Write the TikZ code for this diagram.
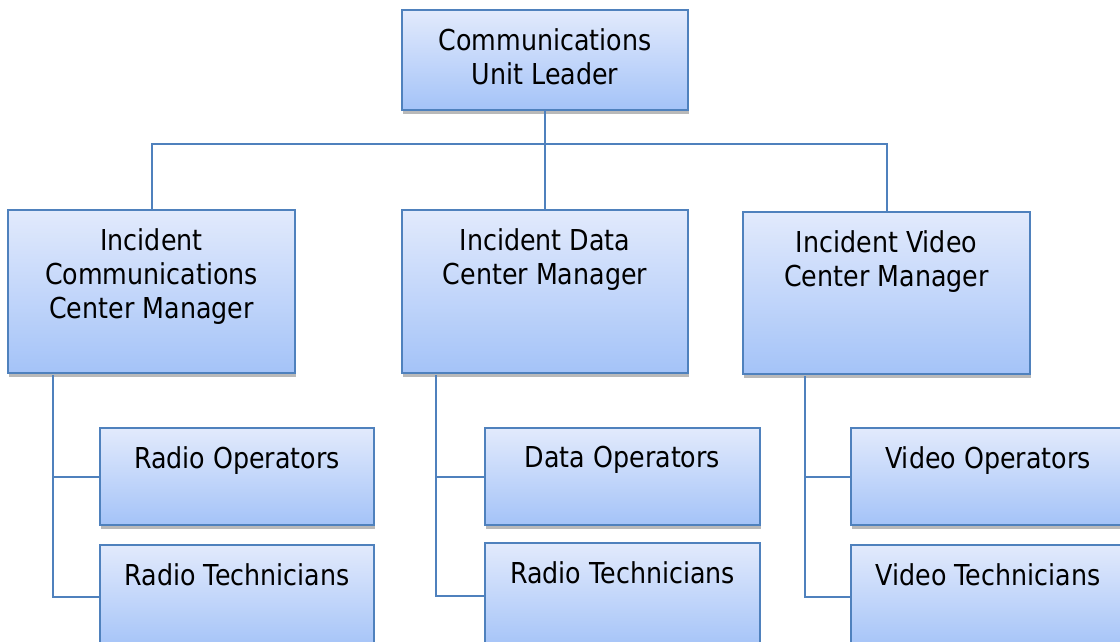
\documentclass[tikz,border=0pt]{standalone}
\usepackage{fontspec}
\setmainfont{DejaVu Sans}[FakeStretch=0.88]
\usetikzlibrary{shadows}
\definecolor{edgeblue}{RGB}{79,129,189}
\definecolor{filltop}{RGB}{226,234,252}
\definecolor{fillbot}{RGB}{164,195,248}
\definecolor{shadowgray}{RGB}{185,185,185}
\tikzset{
  box/.style={draw=edgeblue, line width=2pt, top color=filltop, bottom color=fillbot,
    rectangle, inner sep=0pt,
    drop shadow={shadow xshift=0.8pt, shadow yshift=-3.5pt, fill=shadowgray, opacity=1}},
  lbl/.style={anchor=north, yshift=-19pt, inner sep=0pt, align=center,
    font=\fontsize{28.8pt}{34pt}\selectfont},
  link/.style={draw=edgeblue, line width=2pt}
}
\begin{document}
\begin{tikzpicture}[x=1pt,y=-1pt]
\useasboundingbox (0,0) rectangle (1120,642);
\clip (0,0) rectangle (1120,642);
\fill[white] (0,0) rectangle (1120,642);

% leader
\node[box, minimum width=286pt, minimum height=100pt,
  label={[lbl]north:Communications\\Unit Leader}] (cul) at (545,60) {};

% managers
\node[box, minimum width=287pt, minimum height=163pt,
  label={[lbl]north:Incident\\Communications\\Center Manager}] (icm) at (151.5,291.5) {};
\node[box, minimum width=286pt, minimum height=163pt,
  label={[lbl]north:Incident Data\\Center Manager}] (dcm) at (545,291.5) {};
\node[box, minimum width=287pt, minimum height=162pt,
  label={[lbl]north:Incident Video\\Center Manager}] (vcm) at (886.5,293) {};

% staff
\node[box, minimum width=274pt, minimum height=97pt,
  label={[lbl]north:Radio Operators}] (rop) at (237,476.5) {};
\node[box, minimum width=274pt, minimum height=104pt,
  label={[lbl]north:Radio Technicians}] (rtc) at (237,597) {};
\node[box, minimum width=275pt, minimum height=97pt,
  label={[lbl]north:Data Operators}] (dop) at (622.5,476.5) {};
\node[box, minimum width=275pt, minimum height=106pt,
  label={[lbl]north:Radio Technicians}] (drt) at (622.5,596) {};
\node[box, minimum width=274pt, minimum height=97pt,
  label={[lbl]north:Video Operators}] (vop) at (988,476.5) {};
\node[box, minimum width=274pt, minimum height=104pt,
  label={[lbl]north:Video Technicians}] (vtc) at (988,597) {};

% upper connectors
\coordinate (bus) at (545,144);
\draw[link] (cul.south) -- (cul.south |- bus);
\draw[link] (icm.north) |- (vcm.north |- bus) -- (vcm.north);
\draw[link] (dcm.north) -- (dcm.north |- bus);

% lower connectors
\coordinate (lt) at (53,375);
\coordinate (mt) at (436,375);
\coordinate (rt) at (805,376);
\draw[link] (lt) |- (rtc.west);
\draw[link] (lt |- rop.west) -- (rop.west);
\draw[link] (mt) |- (drt.west);
\draw[link] (mt |- dop.west) -- (dop.west);
\draw[link] (rt) |- (vtc.west);
\draw[link] (rt |- vop.west) -- (vop.west);
\end{tikzpicture}
\end{document}
